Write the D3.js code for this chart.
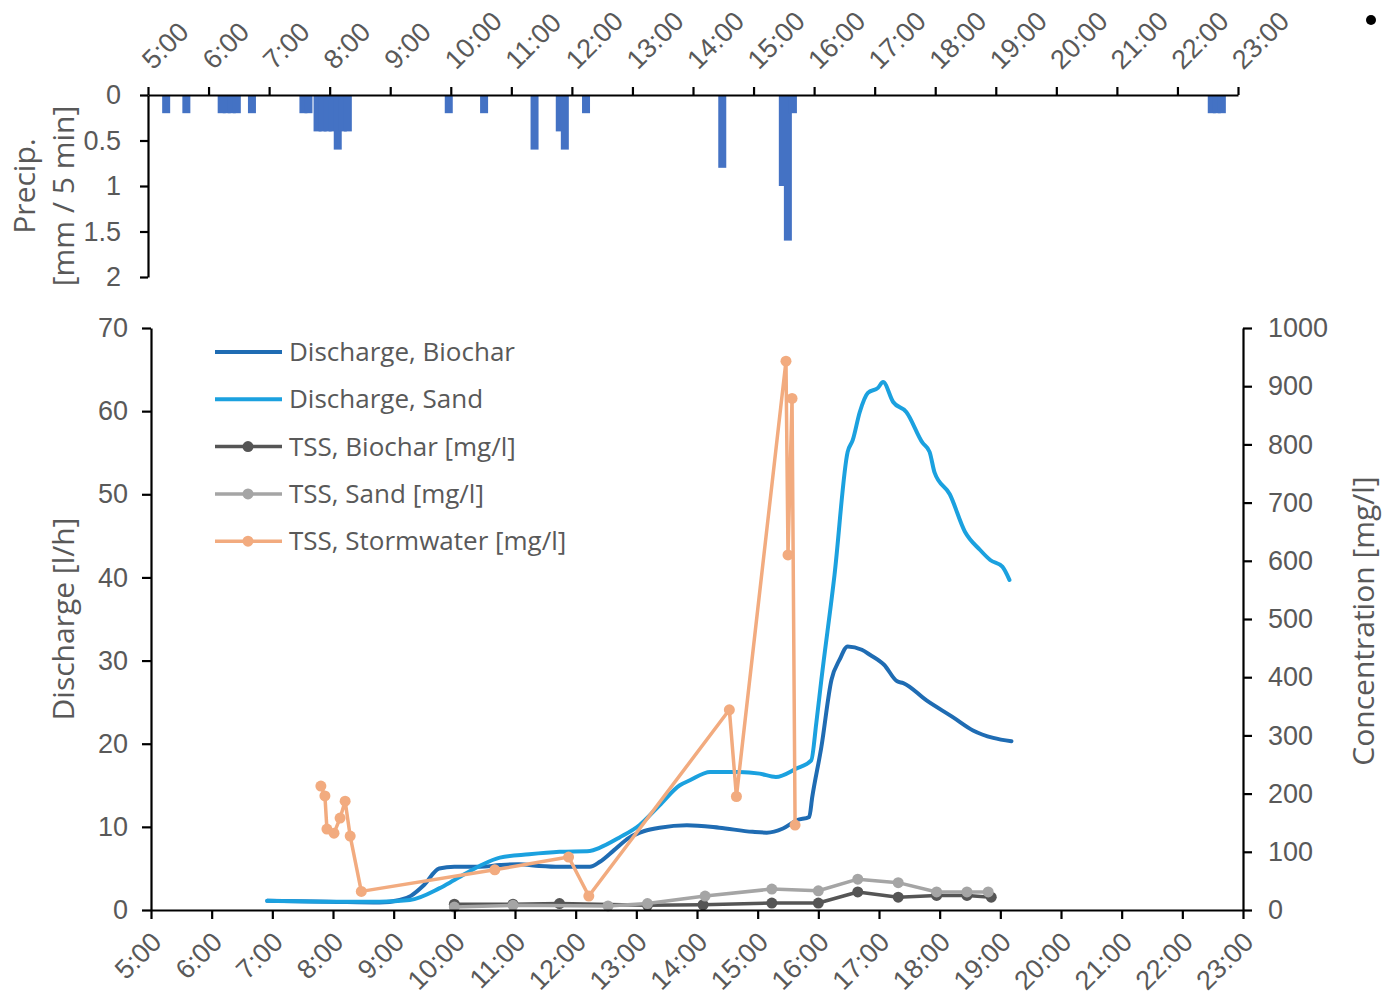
<!DOCTYPE html>
<html>
<head>
<meta charset="utf-8">
<script src="https://cdn.jsdelivr.net/npm/d3@7"></script>
<style>
  html, body { margin: 0; padding: 0; background: #fff; }
  svg { display: block; font-family: "Open Sans", "Noto Sans", sans-serif; }
  .tick text { fill: #595959; }
</style>
</head>
<body>
<svg id="chart" width="1384" height="1000"></svg>
<script>
// ---- Precipitation, mm per 5 min ----
const precipTimes = ["5:18","5:38","6:13","6:18","6:23","6:28","6:43","7:34","7:39",
  "7:48","7:53","7:58","8:03","8:08","8:13","8:18","9:58","10:33","11:23","11:48","11:53",
  "12:14","14:29","15:29","15:34","15:39","22:34","22:39","22:44"];
const precipValues = [0.2,0.2,0.2,0.2,0.2,0.2,0.2,0.2,0.2,
  0.4,0.4,0.4,0.4,0.6,0.4,0.4,0.2,0.2,0.6,0.4,0.6,
  0.2,0.8,1.0,1.6,0.2,0.2,0.2,0.2];

// ---- Discharge, l/h ----
const biocharTimes = ["6:55","7:56","8:46","9:06","9:17","9:30","9:45","10:00","10:25","10:45",
  "11:04","11:24","11:44","12:14","12:24","12:38","12:53","13:08","13:23","13:50","14:22",
  "14:55","15:09","15:25","15:39","15:51","15:54","16:03","16:13","16:21","16:29","16:43",
  "16:51","17:05","17:18","17:24","17:47","18:13","18:33","18:53","19:11"];
const biocharDischarge = [1.1,1.0,0.9,1.2,1.7,3.0,5.0,5.2,5.2,5.4,
  5.5,5.3,5.2,5.2,5.8,7.2,8.7,9.5,9.9,10.2,9.9,
  9.4,9.3,9.8,10.8,11.2,13.6,19.6,27.7,30.1,31.7,31.3,
  30.7,29.5,27.5,27.3,25.2,23.2,21.6,20.7,20.3];

const sandTimes = ["6:55","7:56","8:46","9:16","9:45","10:00","10:25","10:45","11:14","11:44",
  "12:14","12:24","12:43","13:03","13:23","13:43","13:53","14:13","14:42","15:02","15:18",
  "15:38","15:53","15:58","16:03","16:16","16:29","16:34","16:41","16:49","16:59","17:04",
  "17:14","17:27","17:43","17:50","17:55","18:10","18:25","18:40","18:50","19:02","19:09"];
const sandDischarge = [1.1,1.0,1.0,1.2,2.6,3.6,5.3,6.3,6.7,7.0,
  7.1,7.5,8.7,10.2,12.6,15.0,15.6,16.6,16.6,16.4,16.0,
  17.0,18.0,22.5,27.7,40.3,55.1,56.5,59.9,62.2,62.8,63.5,
  61.1,59.9,56.2,55.1,52.6,50.0,45.5,43.3,42.1,41.3,39.7];

// ---- TSS, mg/l ----
const tssBiocharTimes = ["10:00","10:58","11:44","13:11","14:06","15:14","16:00","16:39","17:19","17:57","18:27","18:51"];
const tssBiocharValues = [10,10,11,8,9,12,12,31,22,25,25,22];

const tssSandTimes = ["10:00","10:58","12:32","13:11","14:08","15:14","16:00","16:39","17:19","17:57","18:27","18:48"];
const tssSandValues = [5,8,7,11,24,36,33,53,47,31,31,31];

const tssStormTimes = ["7:48","7:52","7:54","8:01","8:07","8:12","8:17","8:28","10:40","11:53",
  "12:13","14:32","14:39","15:28","15:30","15:34","15:37"];
const tssStormValues = [213,196,139,132,158,187,127,32,69,91,
  24,344,195,943,610,879,146];

// ---- Axis ticks ----
const timeTicks = ["5:00","6:00","7:00","8:00","9:00","10:00","11:00","12:00","13:00","14:00",
  "15:00","16:00","17:00","18:00","19:00","20:00","21:00","22:00","23:00"];
const precipTicks = [0, 0.5, 1, 1.5, 2];
const dischargeTicks = [0,10,20,30,40,50,60,70];
const concTicks = [0,100,200,300,400,500,600,700,800,900,1000];

const seriesNames = ["Discharge, Biochar","Discharge, Sand","TSS, Biochar [mg/l]","TSS, Sand [mg/l]","TSS, Stormwater [mg/l]"];
const seriesColors = ["#1f6cb3","#1ba1df","#555555","#a5a5a5","#f2ab7f"];

// -------------------------------------------------------------------
const toDate = s => { const [h, m] = s.split(":").map(Number); return new Date(2020, 0, 1, h, m); };
const zip = (ts, vs) => ts.map((t, i) => ({ t: toDate(t), v: vs[i] }));

const svg = d3.select("#chart");
const INK = "#595959";
const TICK_FS = 27, TITLE_FS = 30, LEGEND_FS = 26;
const fmt = d3.timeFormat("%-H:%M");
const tickDates = timeTicks.map(toDate);

// Precipitation panel
const xTop = d3.scaleTime().domain([toDate("5:00"), toDate("23:00")]).range([148, 1238]);
const yTop = d3.scaleLinear().domain([0, 2]).range([95, 277]);
const barW = 8;

svg.append("g").selectAll("rect")
  .data(zip(precipTimes, precipValues))
  .join("rect")
  .attr("x", d => xTop(d.t) - barW / 2)
  .attr("y", yTop(0))
  .attr("width", barW)
  .attr("height", d => yTop(d.v) - yTop(0))
  .attr("fill", "#4472c4");

const gTopX = svg.append("g").attr("transform", `translate(0,${yTop(0)})`)
  .call(d3.axisTop(xTop).tickValues(tickDates).tickFormat(fmt).tickSize(8).tickSizeOuter(0));
gTopX.selectAll(".tick text")
  .attr("text-anchor", "start")
  .attr("font-size", TICK_FS)
  .attr("transform", "translate(-2,-31) rotate(-45)")
  .attr("x", 0).attr("y", 0).attr("dy", "0.35em");

const gTopY = svg.append("g").attr("transform", `translate(${xTop.range()[0]},0)`)
  .call(d3.axisLeft(yTop).tickValues(precipTicks).tickFormat(d3.format("")).tickSize(8).tickSizeOuter(0));
gTopY.selectAll(".tick text").attr("font-size", TICK_FS).attr("x", -27);

svg.append("text").attr("transform", "translate(35,186) rotate(-90)")
  .attr("text-anchor", "middle").attr("fill", INK).attr("font-size", TITLE_FS).text("Precip.");
svg.append("text").attr("transform", "translate(74,196) rotate(-90)")
  .attr("text-anchor", "middle").attr("fill", INK).attr("font-size", TITLE_FS).text("[mm / 5 min]");

// Main panel
const x = d3.scaleTime().domain([toDate("5:00"), toDate("23:00")]).range([151, 1243]);
const yL = d3.scaleLinear().domain([0, 70]).range([910, 328]);
const yR = d3.scaleLinear().domain([0, 1000]).range([910, 328]);

const lineL = d3.line().x(d => x(d.t)).y(d => yL(d.v)).curve(d3.curveMonotoneX);
const lineR = d3.line().x(d => x(d.t)).y(d => yR(d.v));

const plot = svg.append("g");
[[biocharTimes, biocharDischarge, 0], [sandTimes, sandDischarge, 1]].forEach(([ts, vs, k]) => {
  plot.append("path").datum(zip(ts, vs))
    .attr("d", lineL).attr("fill", "none")
    .attr("stroke", seriesColors[k]).attr("stroke-width", 4)
    .attr("stroke-linejoin", "round").attr("stroke-linecap", "round");
});
[[tssBiocharTimes, tssBiocharValues, 2], [tssSandTimes, tssSandValues, 3], [tssStormTimes, tssStormValues, 4]].forEach(([ts, vs, k]) => {
  const data = zip(ts, vs);
  plot.append("path").datum(data)
    .attr("d", lineR).attr("fill", "none")
    .attr("stroke", seriesColors[k]).attr("stroke-width", 3.5)
    .attr("stroke-linejoin", "round");
  plot.append("g").selectAll("circle").data(data).join("circle")
    .attr("cx", d => x(d.t)).attr("cy", d => yR(d.v)).attr("r", 5.5)
    .attr("fill", seriesColors[k]);
});

const gX = svg.append("g").attr("transform", `translate(0,${yL(0)})`)
  .call(d3.axisBottom(x).tickValues(tickDates).tickFormat(fmt).tickSize(9).tickSizeOuter(0));
gX.selectAll(".tick text")
  .attr("text-anchor", "end")
  .attr("font-size", TICK_FS)
  .attr("transform", "translate(5,27) rotate(-45)")
  .attr("x", 0).attr("y", 0).attr("dy", "0.35em");

const gL = svg.append("g").attr("transform", `translate(${x.range()[0]},0)`)
  .call(d3.axisLeft(yL).tickValues(dischargeTicks).tickSize(9).tickSizeOuter(0));
gL.selectAll(".tick text").attr("font-size", TICK_FS).attr("x", -23);

const gR = svg.append("g").attr("transform", `translate(${x.range()[1]},0)`)
  .call(d3.axisRight(yR).tickValues(concTicks).tickFormat(d3.format("d")).tickSize(9).tickSizeOuter(0));
gR.selectAll(".tick text").attr("font-size", TICK_FS).attr("x", 25);

svg.selectAll(".domain").attr("stroke", "#000").attr("stroke-width", 2.2);
svg.selectAll(".tick line").attr("stroke", "#000").attr("stroke-width", 2.2);

svg.append("text").attr("transform", "translate(74,619) rotate(-90)")
  .attr("text-anchor", "middle").attr("fill", INK).attr("font-size", TITLE_FS).text("Discharge [l/h]");
svg.append("text").attr("transform", "translate(1374,621) rotate(-90)")
  .attr("text-anchor", "middle").attr("fill", INK).attr("font-size", TITLE_FS).text("Concentration [mg/l]");

// Legend
const legend = svg.append("g");
seriesNames.forEach((name, i) => {
  const yy = 352 + i * 47.3;
  legend.append("line").attr("x1", 215).attr("x2", 282).attr("y1", yy).attr("y2", yy)
    .attr("stroke", seriesColors[i]).attr("stroke-width", i < 2 ? 4 : 3.5);
  if (i >= 2) legend.append("circle").attr("cx", 248).attr("cy", yy).attr("r", 5.5).attr("fill", seriesColors[i]);
  legend.append("text").attr("x", 289).attr("y", yy).attr("dy", "0.35em")
    .attr("fill", INK).attr("font-size", LEGEND_FS).text(name);
});

// Bullet mark in the top-right corner
svg.append("circle").attr("cx", 1371).attr("cy", 20).attr("r", 5).attr("fill", "#000");
</script>
</body>
</html>
